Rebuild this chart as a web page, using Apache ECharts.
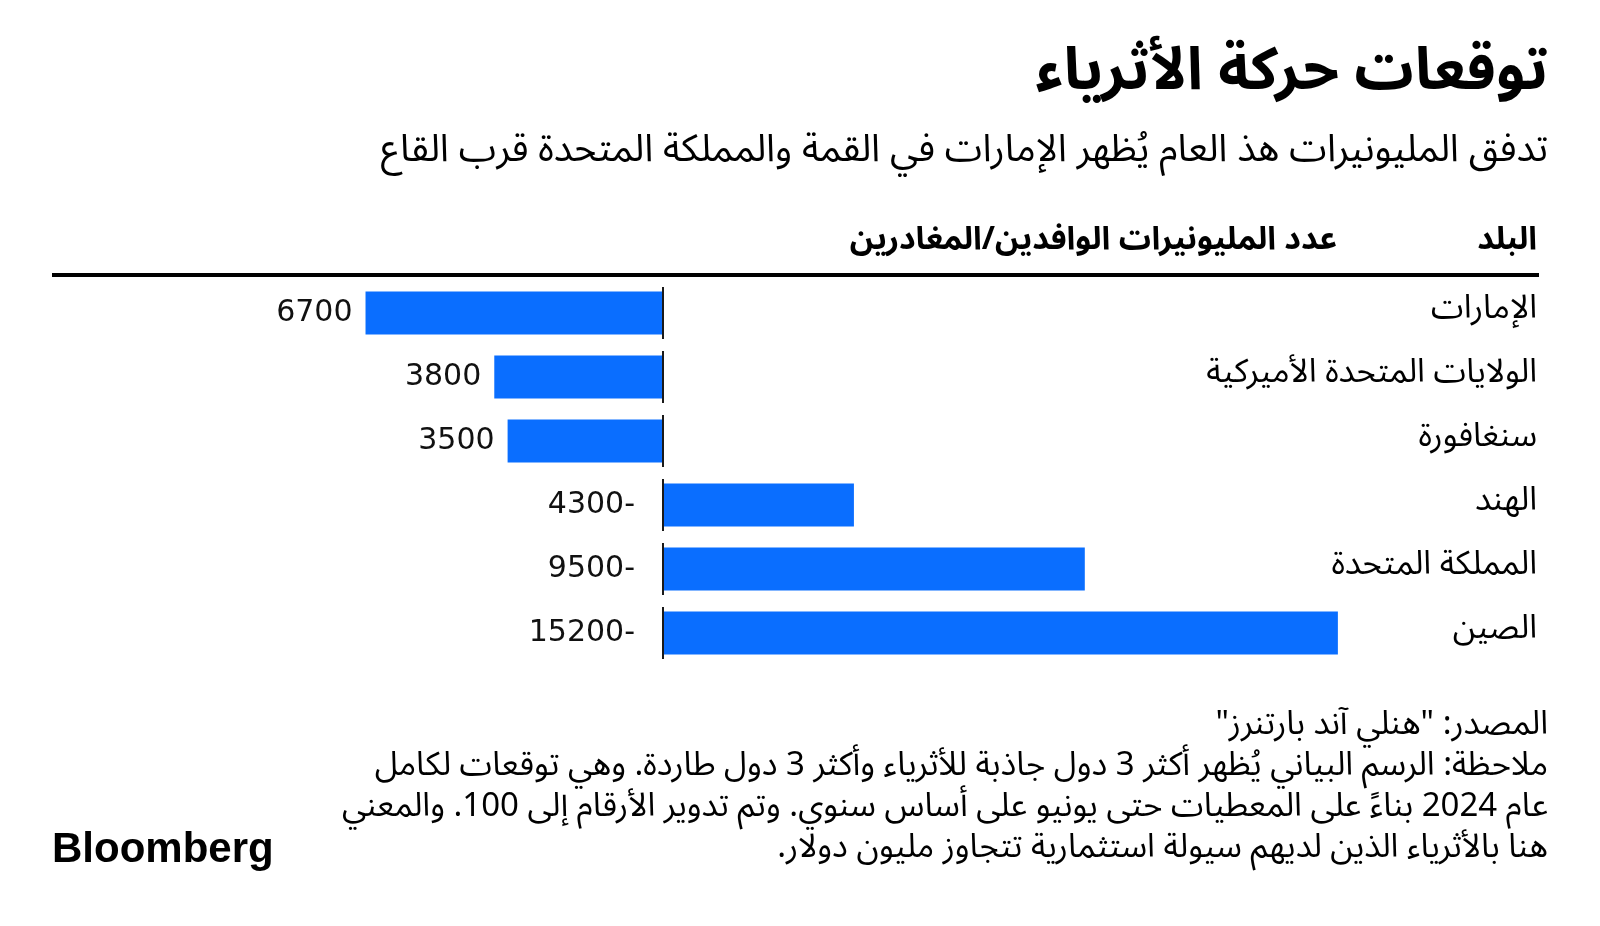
<!DOCTYPE html>
<html dir="rtl">
<head>
<meta charset="utf-8">
<script src="https://cdn.jsdelivr.net/npm/echarts@6/dist/echarts.min.js"></script>
<style>
html,body{margin:0;padding:0;background:#fff;}
#chart{width:1600px;height:926px;}
</style>
</head>
<body>
<div id="chart"></div>
<script>
const categories = ['الإمارات', 'الولايات المتحدة الأميركية', 'سنغافورة', 'الهند', 'المملكة المتحدة', 'الصين'];
const netFlow = [6700, 3800, 3500, -4300, -9500, -15200];

const titleText = 'توقعات حركة الأثرياء';
const subtitleText = 'تدفق المليونيرات هذ العام يُظهر الإمارات في القمة والمملكة المتحدة قرب القاع';
const colCountry = 'البلد';
const colValue = 'عدد المليونيرات الوافدين/المغادرين';
const footerLines = [
  'المصدر: "هنلي آند بارتنرز"',
  'ملاحظة: الرسم البياني يُظهر أكثر 3 دول جاذبة للأثرياء وأكثر 3 دول طاردة. وهي توقعات لكامل',
  'عام 2024 بناءً على المعطيات حتى يونيو على أساس سنوي. وتم تدوير الأرقام إلى 100. والمعني',
  'هنا بالأثرياء الذين لديهم سيولة استثمارية تتجاوز مليون دولار.'
];

const AR = '"Noto Sans Arabic", "DejaVu Sans", sans-serif';
const NUM = '"DejaVu Sans", sans-serif';
const BLUE = '#0A6EFF';

function txt(text, x, y, size, weight, align, vAlign, family, extra) {
  return {
    type: 'text', x: x, y: y, silent: true,
    style: Object.assign({
      text: text, fill: '#000', align: align, verticalAlign: vAlign,
      fontFamily: family || AR, fontSize: size, fontWeight: weight
    }, extra || {})
  };
}

const chart = echarts.init(document.getElementById('chart'));
chart.setOption({
  backgroundColor: '#fff',
  animation: false,
  graphic: [
    txt(titleText, 1548, 80, 59, 'bold', 'right', 'middle'),
    txt(subtitleText, 1548, 155, 38, 'normal', 'right', 'middle'),
    txt(colCountry, 1537, 244, 32, 'bold', 'right', 'middle'),
    txt(colValue, 1337, 244, 32, 'bold', 'right', 'middle'),
    txt(footerLines.join('\n'), 1548, 709, 33, 'normal', 'right', 'top', AR, {lineHeight: 41}),
    txt('Bloomberg', 52, 850, 42, 'bold', 'left', 'middle', '"Liberation Sans", Arial, sans-serif'),
    {type: 'rect', shape: {x: 52, y: 273, width: 1487, height: 4}, style: {fill: '#000'}, silent: true}
  ],
  grid: {left: 307.8, right: 226.6, top: 281, bottom: 261, containLabel: false},
  xAxis: {type: 'value', inverse: true, min: -16000, max: 8000, show: false},
  yAxis: {
    type: 'category', data: categories, inverse: true, position: 'right',
    axisLine: {show: false}, axisTick: {show: false}, splitLine: {show: false},
    axisLabel: {align: 'right', margin: 163.6, fontFamily: AR, fontSize: 33, color: '#000'}
  },
  series: [
    {
      type: 'bar', barWidth: 43,
      itemStyle: {color: BLUE},
      data: netFlow.map(v => ({
        value: v,
        label: {show: true, position: 'left', distance: v >= 0 ? 13 : 28,
          fontFamily: NUM, fontSize: 30, color: '#111',
          formatter: v >= 0 ? String(v) : '-' + Math.abs(v)}
      }))
    },
    {
      type: 'custom', z: 5,
      encode: {x: 0, y: 1},
      data: categories.map(c => [0, c]),
      renderItem: function (params, api) {
        const p = api.coord([0, api.value(1)]);
        const h = api.size([0, 1])[1] * 0.81;
        return {type: 'line', shape: {x1: p[0], y1: p[1] - h / 2, x2: p[0], y2: p[1] + h / 2},
                style: {stroke: '#1a1a1a', lineWidth: 2}};
      }
    }
  ]
});
</script>
</body>
</html>
